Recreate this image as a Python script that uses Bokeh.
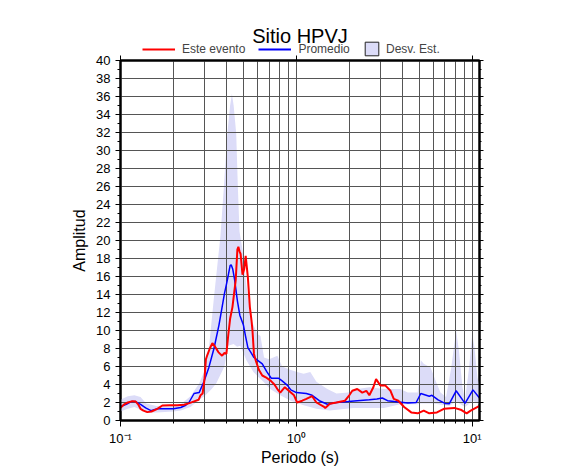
from bokeh.plotting import figure
from bokeh.layouts import column
from bokeh.models import (Range1d, LinearAxis, LogAxis, FixedTicker, SingleIntervalTicker,
                          Legend, LegendItem, Label)
from bokeh.embed import file_html
from bokeh.resources import INLINE

title_text = "Sitio HPVJ"
x_label = "Periodo (s)"
y_label = "Amplitud"
legend_labels = ["Este evento", "Promedio", "Desv. Est."]

# Este evento (red)
evento_T = [0.1, 0.105, 0.11, 0.117, 0.122, 0.126, 0.13, 0.135, 0.142, 0.15, 0.162, 0.173,
            0.19, 0.21, 0.23, 0.244, 0.26, 0.278, 0.285, 0.293, 0.3, 0.306, 0.312, 0.322,
            0.333, 0.345, 0.36, 0.378, 0.39, 0.4, 0.41, 0.42, 0.433, 0.452, 0.462, 0.468,
            0.475, 0.482, 0.494, 0.505, 0.515, 0.53, 0.544, 0.556, 0.563, 0.574, 0.587,
            0.613, 0.64, 0.67, 0.716, 0.75, 0.78, 0.81, 0.86, 0.93, 0.97, 1.01, 1.08, 1.14,
            1.23, 1.3, 1.43, 1.46, 1.55, 1.69, 1.89, 2.0, 2.08, 2.22, 2.37, 2.5, 2.6, 2.74,
            2.84, 3.0, 3.2, 3.43, 3.58, 3.8, 4.1, 4.5, 4.9, 5.3, 5.7, 6.3, 6.9, 7.9, 8.6,
            9.3, 9.8, 10.8, 11.0]
evento_A = [1.4, 1.8, 2.0, 2.15, 2.1, 1.8, 1.3, 1.1, 0.93, 1.0, 1.3, 1.67,
            1.7, 1.7, 1.75, 1.9, 2.1, 2.3, 2.8, 3.0, 4.5, 6.8, 7.3, 8.0,
            8.6, 8.2, 7.6, 7.2, 7.5, 7.4, 9.5, 11.3, 12.6, 15.6, 19.0, 19.3,
            18.8, 18.5, 16.2, 16.8, 18.3, 15.9, 12.6, 11.1, 10.0, 7.4, 6.7,
            5.6, 5.0, 4.8, 4.4, 4.0, 3.5, 3.1, 3.7, 3.1, 2.8, 2.0, 2.2, 2.4,
            2.7, 2.0, 1.55, 1.4, 1.85, 2.0, 2.2, 2.8, 3.3, 3.5, 3.1, 3.3, 2.8, 3.7,
            4.6, 3.9, 3.9, 3.3, 2.4, 2.2, 1.5, 0.9, 0.8, 1.1, 0.8, 0.9, 1.3, 1.4, 1.2,
            0.8, 1.1, 1.55, 1.6]

# Promedio (blue)
prom_T = [0.1, 0.108, 0.115, 0.122, 0.13, 0.139, 0.149, 0.162, 0.18, 0.2, 0.22, 0.235,
          0.245, 0.262, 0.28, 0.298, 0.318, 0.34, 0.363, 0.39, 0.405, 0.42, 0.426, 0.435,
          0.445, 0.462, 0.477, 0.5, 0.515, 0.53, 0.55, 0.574, 0.6, 0.64, 0.68, 0.72, 0.79,
          0.83, 0.89, 0.93, 1.0, 1.14, 1.23, 1.35, 1.5, 1.69, 1.97, 2.22, 2.6, 2.87, 3.08,
          3.3, 3.6, 4.3, 4.8, 5.1, 5.7, 5.9, 6.4, 7.0, 7.4, 8.1, 9.1, 10.1, 11.0]
prom_A = [1.55, 1.8, 2.1, 2.1, 1.8, 1.4, 1.1, 1.3, 1.3, 1.3, 1.45, 1.7,
          2.0, 3.0, 3.1, 4.3, 5.9, 8.0, 10.6, 14.1, 15.6, 17.2, 17.3, 16.8,
          15.7, 13.3, 11.7, 10.6, 9.3, 8.1, 7.6, 7.0, 6.7, 6.3, 5.4, 4.7, 4.7,
          4.4, 3.9, 3.4, 3.1, 3.0, 2.8, 2.2, 1.8, 2.0, 2.1, 2.2, 2.3, 2.4, 2.5,
          2.2, 2.1, 1.95, 2.0, 3.0, 2.7, 2.8, 2.3, 1.9, 1.85, 3.3, 1.9, 3.4, 2.5]

# Desv. Est. band: upper and lower edges
sup_T = [0.1, 0.11, 0.12, 0.13, 0.14, 0.16, 0.2, 0.22, 0.25, 0.28, 0.3, 0.32, 0.34, 0.37,
         0.387, 0.405, 0.42, 0.43, 0.44, 0.455, 0.465, 0.475, 0.494, 0.52, 0.557, 0.6,
         0.625, 0.655, 0.7, 0.78, 0.83, 0.93, 1.01, 1.1, 1.2, 1.3, 1.5, 1.69, 1.97, 2.22,
         2.6, 3.15, 3.43, 3.9, 4.3, 4.9, 5.1, 5.3, 5.8, 6.2, 6.6, 7.1, 7.6, 8.1, 8.4, 8.8,
         9.1, 9.6, 10.0, 10.3, 10.7, 11.0]
sup_A = [2.3, 2.7, 2.8, 2.6, 1.9, 1.6, 1.7, 1.8, 2.7, 4.1, 5.5, 8.5, 13.7, 20.5,
         25.9, 31.9, 35.0, 36.3, 35.0, 31.9, 25.9, 21.0, 19.0, 15.0, 11.1, 9.6,
         9.4, 7.0, 6.8, 7.2, 6.0, 5.6, 5.4, 5.2, 5.4, 4.3, 3.5, 3.0, 3.1, 3.5,
         3.7, 3.5, 3.5, 3.5, 3.1, 3.1, 6.7, 6.3, 5.9, 4.4, 3.1, 2.6, 5.9, 10.0, 7.8, 3.7,
         2.3, 5.9, 9.6, 8.1, 4.8, 3.7]
inf_T = [0.1, 0.11, 0.12, 0.13, 0.14, 0.16, 0.2, 0.22, 0.25, 0.28, 0.3, 0.33, 0.35, 0.39,
         0.41, 0.44, 0.46, 0.48, 0.52, 0.57, 0.61, 0.65, 0.71, 0.81, 0.93, 1.1, 1.3, 1.55,
         2.1, 3.15, 3.9, 4.9, 5.1, 6.0, 7.0, 7.4, 8.1, 9.1, 10.1, 11.0]
inf_A = [1.0, 1.3, 1.5, 1.2, 0.9, 0.9, 1.0, 1.1, 1.5, 2.3, 2.7, 3.5, 4.1, 6.0,
         8.3, 8.5, 8.2, 8.3, 6.7, 5.4, 4.8, 4.3, 3.5, 2.8, 2.2, 1.7, 1.3, 1.1,
         1.4, 1.4, 1.8, 1.8, 1.9, 1.9, 1.7, 1.6, 2.1, 1.5, 2.2, 1.8]

x_major = [0.1, 1, 10]
x_major_labels = ["10\u207b\u00b9", "10\u2070", "10\u00b9"]
x_minor = [m * d for d in (0.1, 1, 10) for m in range(2, 10)]

FONT = "Liberation Sans"
GRID = "#555555"
RED = "#ff0000"
BLUE = "#0000ff"
BAND = "#dcdcf8"
W = 586
LB, RB = 120, 107
NAN = float("nan")

# ---------------- header: title + legend ----------------
hdr = figure(width=W, height=60, x_range=Range1d(0, 1), y_range=Range1d(0, 1),
             output_backend="svg", toolbar_location=None,
             x_axis_location=None, y_axis_location=None,
             min_border_left=LB, min_border_right=RB,
             min_border_top=0, min_border_bottom=0)
hdr.grid.visible = False
hdr.outline_line_color = None
hdr.title = None

# legend-only renderers (nothing visible is drawn in the header frame)
h_red = hdr.line([NAN], [NAN], line_color=RED, line_width=2)
h_blue = hdr.line([NAN], [NAN], line_color=BLUE, line_width=2)
h_band = hdr.quad(left=[NAN], right=[NAN], top=[NAN], bottom=[NAN], fill_color=BAND,
                  line_color="#222222", line_width=1)

hdr.add_layout(Label(x=0.5, y=25, y_units="screen", text=title_text,
                     text_align="center", text_baseline="middle",
                     text_font=FONT, text_font_size="20px", text_color="black"))

leg1 = Legend(items=[LegendItem(label=legend_labels[0], renderers=[h_red]),
                     LegendItem(label=legend_labels[1], renderers=[h_blue])],
              orientation="horizontal", location=(22, 4),
              glyph_width=33, glyph_height=14, label_height=14,
              label_standoff=7, spacing=13, padding=0, margin=0,
              label_text_font=FONT, label_text_font_size="12px",
              border_line_color=None, background_fill_alpha=0)
leg2 = Legend(items=[LegendItem(label=legend_labels[2], renderers=[h_band])],
              orientation="horizontal", location=(243, 3),
              glyph_width=17, glyph_height=17, label_height=14,
              label_standoff=6, padding=0, margin=0,
              label_text_font=FONT, label_text_font_size="12px",
              border_line_color=None, background_fill_alpha=0)
hdr.add_layout(leg1)
hdr.add_layout(leg2)

# ---------------- main plot ----------------
p = figure(width=W, height=425, x_axis_type="log",
           x_range=Range1d(0.1, 11), y_range=Range1d(0, 40),
           output_backend="svg", toolbar_location=None,
           min_border_left=LB, min_border_right=RB,
           min_border_top=12, min_border_bottom=53,
           margin=(-12, 0, 0, 0))
p.title = None
p.border_fill_alpha = 0
p.background_fill_color = "white"
p.outline_line_color = "black"
p.outline_line_width = 2

band_x = sup_T + inf_T[::-1]
band_y = sup_A + inf_A[::-1]
p.patch(band_x, band_y, fill_color=BAND, line_color=None, level="image")

p.line(prom_T, prom_A, line_color=BLUE, line_width=1.5)
p.line(evento_T, evento_A, line_color=RED, line_width=2)

xt = FixedTicker(ticks=x_major, minor_ticks=x_minor)
xa = p.xaxis[0]
xa.ticker = xt
xa.major_label_overrides = dict(zip(x_major, x_major_labels))
xa.axis_label = x_label
xa.axis_label_text_font = FONT
xa.axis_label_text_font_size = "16px"
xa.axis_label_text_font_style = "normal"
xa.axis_label_text_color = "black"
xa.axis_label_standoff = 0
xa.major_label_text_font = FONT
xa.major_label_text_font_size = "13px"
xa.major_label_text_color = "black"
xa.major_label_standoff = 4
xa.axis_line_width = 2
xa.major_tick_out = 6
xa.major_tick_in = 0
xa.minor_tick_out = 3
xa.minor_tick_in = 0

# top axis: major ticks only
ta = LogAxis(ticker=FixedTicker(ticks=x_major), axis_line_width=2,
             major_tick_out=5, major_tick_in=0, minor_tick_out=0, minor_tick_in=0,
             major_label_text_font_size="0px", major_label_standoff=0,
             major_label_overrides={v: "" for v in x_major})
p.add_layout(ta, "above")

yt = SingleIntervalTicker(interval=2, num_minor_ticks=2)
ya = p.yaxis[0]
ya.ticker = yt
ya.axis_label = y_label
ya.axis_label_text_font = FONT
ya.axis_label_text_font_size = "16px"
ya.axis_label_text_font_style = "normal"
ya.axis_label_text_color = "black"
ya.axis_label_standoff = 5
ya.major_label_text_font = FONT
ya.major_label_text_font_size = "13px"
ya.major_label_text_color = "black"
ya.major_label_standoff = 5
ya.axis_line_width = 2
ya.major_tick_out = 5
ya.major_tick_in = 0
ya.minor_tick_out = 3
ya.minor_tick_in = 0

ra = LinearAxis(ticker=SingleIntervalTicker(interval=2, num_minor_ticks=2),
                axis_line_width=2, major_tick_out=4, major_tick_in=0,
                minor_tick_out=2, minor_tick_in=0,
                major_label_overrides={float(v): "" for v in range(0, 42, 2)})
p.add_layout(ra, "right")

p.xgrid.ticker = xt
p.xgrid.grid_line_color = GRID
p.xgrid.minor_grid_line_color = GRID
p.ygrid.ticker = yt
p.ygrid.grid_line_color = GRID

layout = column(hdr, p, spacing=0)
open("out.html", "w").write(file_html(layout, INLINE))
